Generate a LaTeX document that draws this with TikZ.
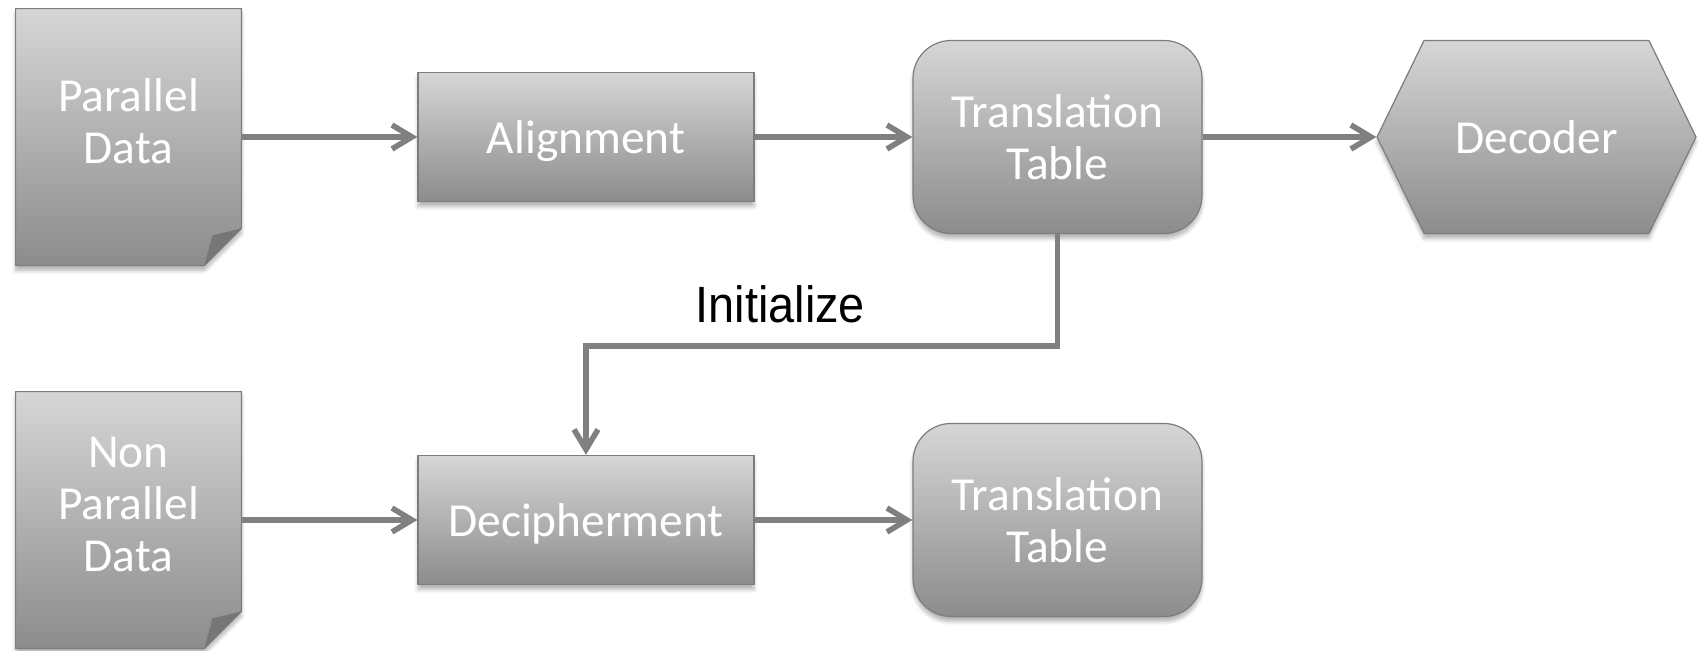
\documentclass[tikz,border=0pt]{standalone}
\usepackage{fontspec}
\setmainfont{Carlito}
\newfontfamily\labelfont{Liberation Sans}
\usetikzlibrary{arrows.meta,shapes.symbols,backgrounds,shadows.blur}

\definecolor{shadetop}{RGB}{214,214,214}
\definecolor{shadebottom}{RGB}{140,140,140}
\definecolor{edgegray}{RGB}{125,125,125}
\definecolor{flowgray}{RGB}{128,128,128}
\definecolor{foldgray}{RGB}{118,118,118}

\tikzset{
  boxfill/.style={top color=shadetop, bottom color=shadebottom, draw=edgegray, line width=0.6pt,
    blur shadow={shadow xshift=0pt, shadow yshift=-2.5pt, shadow opacity=30, shadow blur steps=6}},
  boxtext/.style={text=white, align=center, font=\fontsize{23.7}{26}\selectfont},
  procbox/.style={boxfill, boxtext, rectangle, text depth=0pt, minimum width=168pt, minimum height=64.5pt},
  tablebox/.style={boxfill, boxtext, rectangle, rounded corners=19pt, minimum width=144.5pt, minimum height=96.5pt},
  decodebox/.style={boxfill, boxtext, shape=signal, signal to=east and west, signal pointer angle=128,
    minimum width=159.5pt, minimum height=96.5pt, inner sep=0pt},
  docframe/.style={rectangle, minimum width=112.5pt, minimum height=128pt, inner sep=0pt},
  doctext/.style={boxtext, yshift=8pt},
  initlabel/.style={font=\labelfont\fontsize{25.5}{30}\selectfont, anchor=base, yshift=12pt, inner sep=0pt, xscale=0.92},
  flow/.style={draw=flowgray, line width=2.8pt, -{Straight Barb[length=10pt,width=12pt]}},
}

% sheet with a folded corner behind a docframe node
\newcommand\docsheet[1]{%
  \shade[boxfill] (#1.north west) -- (#1.north east) -- ([yshift=18.5pt]#1.south east)
    -- ([xshift=-18.5pt]#1.south east) -- (#1.south west) -- cycle;
  \fill[foldgray] ([yshift=18.5pt]#1.south east) -- ([xshift=-14.5pt,yshift=15pt]#1.south east)
    -- ([xshift=-18.5pt]#1.south east) -- cycle;}

\begin{document}
\begin{tikzpicture}[x=0.5pt, y=0.5pt]
  \useasboundingbox (0,0) rectangle (1705,650);

  % upper row
  \node[docframe, label={[doctext]center:Parallel\\Data}] (pdata) at (128.5,513) {};
  \node[procbox] (align) at (586,513) {Alignment};
  \node[tablebox] (tt1) at (1057.5,513) {Translation\\Table};
  \node[decodebox] (dec) at (1536.5,513) {Decoder};

  % lower row
  \node[docframe, label={[doctext]center:Non\\Parallel\\Data}] (npdata) at (128.5,130) {};
  \node[procbox] (deciph) at (586,130) {Decipherment};
  \node[tablebox] (tt2) at (1057.5,130) {Translation\\Table};

  \begin{scope}[on background layer]
    \docsheet{pdata}
    \docsheet{npdata}
  \end{scope}

  \draw[flow] (pdata.east) -- (align.west);
  \draw[flow] (align.east) -- (tt1.west);
  \draw[flow] (tt1.east) -- (dec.west);
  \draw[flow] (npdata.east) -- (deciph.west);
  \draw[flow] (deciph.east) -- (tt2.west);
  \draw[flow] (tt1.south) -- ++(0,-112) -| node[initlabel, pos=0.294] {Initialize} (deciph.north);
\end{tikzpicture}
\end{document}
